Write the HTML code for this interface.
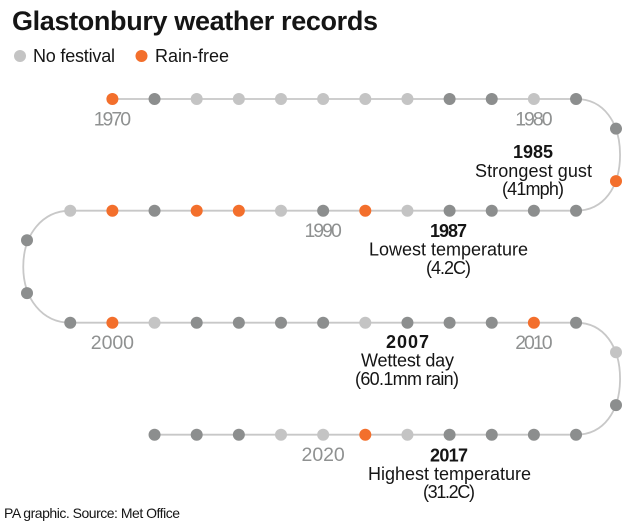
<!DOCTYPE html>
<html lang="en">
<head>
<meta charset="utf-8">
<title>Glastonbury weather records</title>
<style>
  html, body { margin: 0; padding: 0; background: #fff; }
  #chart { display: block; width: 640px; height: 525px; font-family: "Liberation Sans", Arial, sans-serif; }
  text { fill: #151515; font-size: 18px; }
  .bold { font-weight: 700; }
  .year { fill: #8f9191; font-size: 19.5px; text-anchor: middle; }
</style>
</head>
<body>
<svg id="chart" width="640" height="525" viewBox="0 0 640 525" xmlns="http://www.w3.org/2000/svg">
  <text class="bold" x="12" y="30" style="font-size:27px" textLength="366" lengthAdjust="spacing">Glastonbury weather records</text>

  <g>
    <circle cx="20" cy="56" r="6" fill="#c4c4c4"/>
    <text x="33" y="62" textLength="82" lengthAdjust="spacing">No festival</text>
    <circle cx="141.5" cy="56" r="6" fill="#f36f2c"/>
    <text x="155" y="62" textLength="74" lengthAdjust="spacing">Rain-free</text>
  </g>

  <path id="track" fill="none" stroke="#c8c8c8" stroke-width="1.8"/>
  <g id="nodes"></g>
  <g id="year-labels"></g>

  <g text-anchor="middle">
    <text class="bold" x="533" y="158" textLength="40" lengthAdjust="spacing">1985</text>
    <text x="533.5" y="177" textLength="117" lengthAdjust="spacing">Strongest gust</text>
    <text x="533" y="195" textLength="62" lengthAdjust="spacing">(41mph)</text>
  </g>
  <g text-anchor="middle">
    <text class="bold" x="448.5" y="237" textLength="37" lengthAdjust="spacing">1987</text>
    <text x="448.5" y="255.5" textLength="159" lengthAdjust="spacing">Lowest temperature</text>
    <text x="448.5" y="274" textLength="45" lengthAdjust="spacing">(4.2C)</text>
  </g>
  <g text-anchor="middle">
    <text class="bold" x="407.5" y="348" textLength="43" lengthAdjust="spacing">2007</text>
    <text x="407.5" y="366.5" textLength="93" lengthAdjust="spacing">Wettest day</text>
    <text x="407" y="385" textLength="104" lengthAdjust="spacing">(60.1mm rain)</text>
  </g>
  <g text-anchor="middle">
    <text class="bold" x="449" y="461.5" textLength="38" lengthAdjust="spacing">2017</text>
    <text x="449.5" y="480" textLength="163" lengthAdjust="spacing">Highest temperature</text>
    <text x="449" y="498" textLength="52" lengthAdjust="spacing">(31.2C)</text>
  </g>

  <text x="4" y="518" style="font-size:14px" textLength="176" lengthAdjust="spacing">PA graphic. Source: Met Office</text>
</svg>

<script>
const firstYear = 1970;
// Festival status per year from firstYear: o = rain-free, n = no festival, d = other year
const yearStatus = [
  'o','d','n','n','n','n','n','n','d','d','n','d',
  'd','o',
  'd','d','d','d','n','o','d','n','o','o','d','o','n',
  'd','d',
  'd','o','n','d','d','d','d','n','d','d','d','o','d',
  'n','d',
  'd','d','d','d','n','o','n','n','d','d','d'
];
const labelledYears = [1970, 1980, 1990, 2000, 2010, 2020];

const statusColours = { o: '#f36f2c', n: '#c4c4c4', d: '#8c8e8e' };
const svgNS = 'http://www.w3.org/2000/svg';

// Serpentine layout
const rowYs = [99, 210.7, 322.7, 434.7];
const rowLengths = [12, 13, 13, 11];
const columnStep = 42.15;
function columnX(col) { return 112.4 + col * columnStep; }

function nodePosition(index) {
  let i = index;
  for (let row = 0; row < rowYs.length; row++) {
    const leftward = row % 2 === 1;
    const start = leftward ? 11 : (row === 0 ? 0 : -1);
    if (i < rowLengths[row]) {
      const col = leftward ? start - i : start + i;
      return { x: columnX(col), y: rowYs[row], row: row };
    }
    i -= rowLengths[row];
    if (i < 2) {
      const onRight = row % 2 === 0;
      const y0 = rowYs[row], y1 = rowYs[row + 1];
      const x = onRight ? 616 : 27;
      const y = i === 0 ? y0 + 29.6 : y1 - 29.6;
      return { x: x, y: y, row: row };
    }
    i -= 2;
  }
  return { x: columnX(0), y: rowYs[3], row: 3 };
}

function trackPath() {
  const rightX = columnX(11), leftX = columnX(-1);
  const bend = (x, y0, y1, dir) => {
    const mid = (y0 + y1) / 2;
    const edge = x + dir * (dir > 0 ? 44 : 47);
    return 'C' + (x + dir * 28) + ' ' + y0 + ' ' + edge + ' ' + (y0 + 24) + ' ' + edge + ' ' + mid +
           'C' + edge + ' ' + (y1 - 24) + ' ' + (x + dir * 28) + ' ' + y1 + ' ' + x + ' ' + y1;
  };
  let d = 'M' + columnX(0) + ' ' + rowYs[0] + 'L' + rightX + ' ' + rowYs[0];
  d += bend(rightX, rowYs[0], rowYs[1], 1);
  d += 'L' + leftX + ' ' + rowYs[1];
  d += bend(leftX, rowYs[1], rowYs[2], -1);
  d += 'L' + rightX + ' ' + rowYs[2];
  d += bend(rightX, rowYs[2], rowYs[3], 1);
  const last = nodePosition(yearStatus.length - 1);
  d += 'L' + last.x + ' ' + rowYs[3];
  return d;
}

document.getElementById('track').setAttribute('d', trackPath());

const nodesGroup = document.getElementById('nodes');
yearStatus.forEach(function (status, i) {
  const p = nodePosition(i);
  const c = document.createElementNS(svgNS, 'circle');
  
  
  c.setAttribute('cx', p.x);
  c.setAttribute('cy', p.y);
  c.setAttribute('r', 6);
  c.setAttribute('fill', statusColours[status]);
  nodesGroup.appendChild(c);
});

function labelWidth(s) {
  let w = 0;
  for (const ch of s) w += ch === '1' ? 5 : 10.8;
  return w;
}

const labelsGroup = document.getElementById('year-labels');
labelledYears.forEach(function (year) {
  const p = nodePosition(year - firstYear);
  const t = document.createElementNS(svgNS, 'text');
  
  
  t.setAttribute('class', 'year');
  t.setAttribute('x', p.x);
  t.setAttribute('y', p.y + 26.5);
  t.setAttribute('textLength', labelWidth(String(year)));
  t.setAttribute('lengthAdjust', 'spacing');
  t.textContent = year;
  labelsGroup.appendChild(t);
});
</script>
</body>
</html>
